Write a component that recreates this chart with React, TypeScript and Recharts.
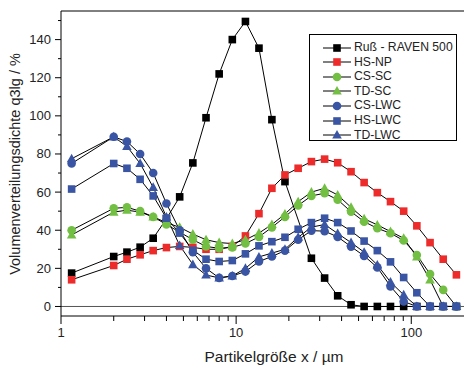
import { LineChart, Line, XAxis, YAxis, ReferenceLine } from 'recharts';

// particle size classes (µm)
const sizes = [1.15, 2, 2.38, 2.83, 3.36, 4, 4.76, 5.66, 6.73, 8, 9.51, 11.3, 13.5, 16, 19, 22.6, 26.9, 32, 38, 45.3, 53.8, 64, 76.1, 90.5, 107.6, 128, 152.2, 181];

const rus = [17.5, 26.2, 28.5, 31.1, 35.8, 46, 57.5, 75.3, 99, 122, 140, 149.5, 135.5, 98, 65.5, null, 25.3, 14.9, 5.6, 0.9, 0, 0, 0, 0, 0, 0, 0, 0];
const hsNp = [14, 21.5, 24.8, 27.1, 29.3, 30.9, 31.5, 31, 30, 30, 31.5, 37, 48.7, 62, 69, 72.5, 76, 77.3, 75.4, 70.7, 65, 59.7, 55, 50, 42.3, 33.5, 24.8, 16.6];
const csSc = [40, 51.5, 52, 50, 47, 43, 39, 35, 31.5, 30.5, 31, 33, 36.5, 41.5, 47, 53, 58, 59.4, 56, 49.7, 44.5, 41, 38.4, 34.6, 27, 17, 8.7, 0];
const tdSc = [37.5, 49.5, 50.5, 49.5, 47, 44, 41.5, 38, 35, 33.5, 33, 35, 38.5, 43, 48.5, 55, 60, 62, 58.5, 52, 46, 42.8, 39.3, 35.8, 26, 14, 0, 0];
const csLwc = [75, 89, 86.5, 80, 70, 54, 40, 28.5, 20, 15, 16, 18.3, 23.6, 26.2, 29.3, 35, 39.8, 39.5, 36.5, 31.4, 26.5, 20.5, 10.5, 2.6, 0, 0, 0, 0];
const hsLwc = [61.6, 75, 72.5, 66.7, 58, 46.3, 38.5, 29.5, 24.8, 23.6, 24.1, 27.6, 31.8, 34, 36.3, 40.5, 44, 46.3, 44, 39.6, 34.3, 29.3, 23.4, 15.2, 7.2, 0, 0, 0];
const tdLwc = [77.5, 89, 84, 75, 62.5, 47, 32, 22, 16.5, 15, 16, 20, 26, 28, 30, 36.3, 41.6, 43, 38.3, 33.5, 28.5, 21.8, 12.8, 6.1, 0, 0, 0, 0];

const xTicks = [1, 2, 3, 4, 5, 6, 7, 8, 9, 10, 20, 30, 40, 50, 60, 70, 80, 90, 100];
const xLabels = [1, 10, 100];
const yTicks = [0, 10, 20, 30, 40, 50, 60, 70, 80, 90, 100, 110, 120, 130, 140, 150];

const BLACK = '#000000';
const RED = '#ee2b2b';
const GREEN = '#72bf44';
const BLUE = '#3a55a4';
const FONT = '"Liberation Sans", Arial, sans-serif';

const series = [
  { key: 'rus', name: 'Ruß - RAVEN 500', values: rus, color: BLACK, shape: 'square' },
  { key: 'hsNp', name: 'HS-NP', values: hsNp, color: RED, shape: 'square' },
  { key: 'csSc', name: 'CS-SC', values: csSc, color: GREEN, shape: 'circle' },
  { key: 'tdSc', name: 'TD-SC', values: tdSc, color: GREEN, shape: 'triangle' },
  { key: 'csLwc', name: 'CS-LWC', values: csLwc, color: BLUE, shape: 'circle' },
  { key: 'hsLwc', name: 'HS-LWC', values: hsLwc, color: BLUE, shape: 'square' },
  { key: 'tdLwc', name: 'TD-LWC', values: tdLwc, color: BLUE, shape: 'triangle' },
];

const data = sizes.map((x, i) => {
  const row: any = { x };
  series.forEach((s) => (row[s.key] = s.values[i]));
  return row;
});

function Marker({ cx, cy, shape, color }: any) {
  if (shape === 'square') return <rect x={cx - 3.8} y={cy - 3.8} width={7.6} height={7.6} fill={color} />;
  if (shape === 'circle') return <circle cx={cx} cy={cy} r={4.3} fill={color} />;
  return <polygon points={`${cx},${cy - 5} ${cx - 4.8},${cy + 3.6} ${cx + 4.8},${cy + 3.6}`} fill={color} />;
}

const makeDot = (shape: string, color: string) => (props: any) => {
  const { cx, cy, index, value } = props;
  if (cx == null || cy == null || value == null) return <g key={index} />;
  return <Marker key={index} cx={cx} cy={cy} shape={shape} color={color} />;
};

const XTick = ({ x, y, payload }: any) => {
  const major = xLabels.includes(payload.value);
  return (
    <g>
      <line x1={x} x2={x} y1={y} y2={y + (major ? 8 : 5)} stroke="#000" />
      {major && (
        <text x={x} y={y + 21} textAnchor="middle" fontSize={13} fill="#222" fontFamily={FONT}>
          {payload.value}
        </text>
      )}
    </g>
  );
};

const YTick = ({ x, y, payload }: any) => {
  const major = payload.value % 20 === 0;
  return (
    <g>
      <line x1={x - (major ? 6 : 3)} x2={x} y1={y} y2={y} stroke="#000" />
      {major && (
        <text x={x - 10} y={y + 4.5} textAnchor="end" fontSize={13} fill="#222" fontFamily={FONT}>
          {payload.value}
        </text>
      )}
    </g>
  );
};

function LegendBox() {
  return (
    <div
      style={{
        position: 'absolute',
        left: 309,
        top: 34,
        width: 146,
        height: 105,
        border: '1px solid #000',
        background: '#fff',
        fontFamily: FONT,
        fontSize: 12.2,
        color: '#222',
      }}
    >
      {series.map((s, i) => (
        <div
          key={s.key}
          style={{
            position: 'absolute',
            left: 13,
            top: 5 + i * 14.6,
            height: 15,
            display: 'flex',
            alignItems: 'center',
            whiteSpace: 'nowrap',
          }}
        >
          <svg width={28} height={12} style={{ flexShrink: 0 }}>
            <line x1={0} x2={28} y1={6} y2={6} stroke="#000" />
            <Marker cx={14} cy={6} shape={s.shape} color={s.color} />
          </svg>
          <span style={{ marginLeft: 3, lineHeight: '15px' }}>{s.name}</span>
        </div>
      ))}
    </div>
  );
}

export default function App() {
  return (
    <div style={{ position: 'absolute', left: 0, top: 0, width: 464, height: 365, background: '#fff' }}>
      <LineChart width={464} height={365} data={data} margin={{ top: 11, right: 0, left: 0, bottom: 0 }}>
        <XAxis
          dataKey="x"
          type="number"
          scale="log"
          domain={[1, 200]}
          allowDataOverflow
          ticks={xTicks}
          interval={0}
          tick={<XTick />}
          tickLine={false}
          tickSize={0}
          tickMargin={0}
          height={49}
          axisLine={{ stroke: '#000' }}
        />
        <YAxis
          type="number"
          domain={[-5, 155]}
          allowDataOverflow
          ticks={yTicks}
          interval={0}
          tick={<YTick />}
          tickLine={false}
          tickSize={0}
          tickMargin={0}
          width={61}
          axisLine={{ stroke: '#000' }}
        />
        <ReferenceLine y={155} stroke="#000" />
        <ReferenceLine y={0} stroke="#555" />
        {series.map((s) => (
          <Line
            key={s.key}
            dataKey={s.key}
            type="linear"
            stroke="#000"
            strokeWidth={1}
            connectNulls
            dot={makeDot(s.shape, s.color)}
            activeDot={false}
            isAnimationActive={false}
          />
        ))}
      </LineChart>
      <LegendBox />
      <div
        style={{
          position: 'absolute',
          left: 15,
          top: 164,
          transform: 'translate(-50%, -50%) rotate(-90deg)',
          whiteSpace: 'nowrap',
          fontFamily: FONT,
          fontSize: 14.5,
          color: '#222',
          lineHeight: 1,
        }}
      >
        Volumenverteilungsdichte q3lg / %
      </div>
      <div
        style={{
          position: 'absolute',
          left: 274,
          top: 357,
          transform: 'translate(-50%, -50%)',
          whiteSpace: 'nowrap',
          fontFamily: FONT,
          fontSize: 15.5,
          color: '#222',
          lineHeight: 1,
        }}
      >
        Partikelgröße x / µm
      </div>
    </div>
  );
}
